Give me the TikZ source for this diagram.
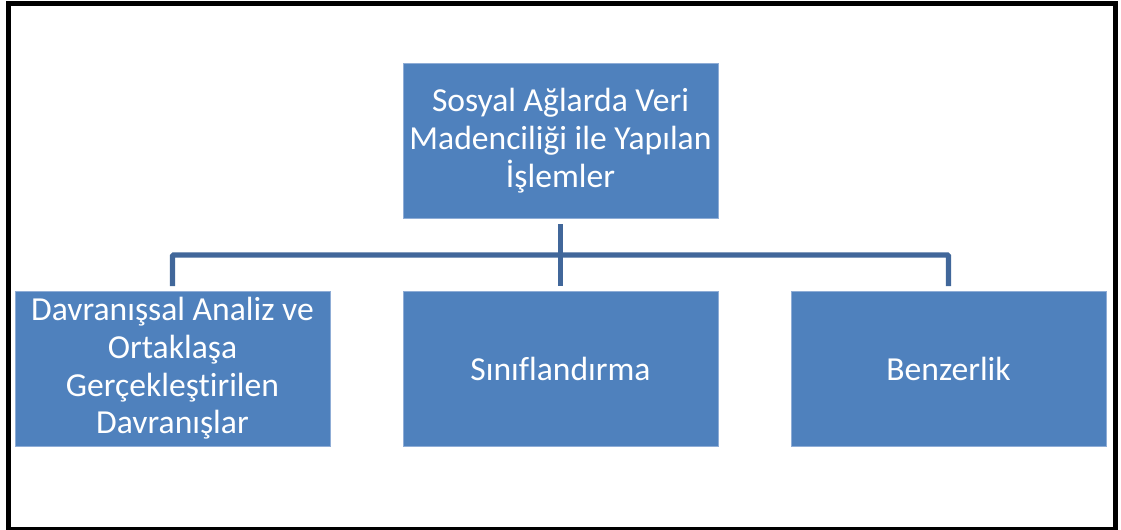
\documentclass[tikz,border=0pt]{standalone}
\usepackage{fontspec}
\setmainfont{Carlito}[Ligatures={NoCommon}]
\definecolor{boxfill}{HTML}{4F81BD}
\definecolor{boxedge}{HTML}{8FADD6}
\definecolor{linkblue}{HTML}{41679A}
\begin{document}
\begin{tikzpicture}[x=0.75pt,y=-0.75pt,
  card/.style={rectangle, fill=boxfill, draw=boxedge, line width=0.4pt,
    minimum width=236.25pt, minimum height=116.25pt, inner sep=0pt, outer sep=0pt,
    text=white, align=center,
    font=\fontsize{25.2pt}{28.3pt}\selectfont},
  link/.style={draw=linkblue, line width=4.1pt}]
  \useasboundingbox (0,0) rectangle (1121,529);
  % outer frame
  \draw[line width=3.75pt] (8.5,3.5) rectangle (1115,529);

  % boxes
  \node[card] (top) at (560.5,140.5) {Sosyal Ağlarda Veri\\Madenciliği ile Yapılan\\İşlemler};
  \node[card] (left) at (172.5,368.5) {Davranışsal Analiz ve\\Ortaklaşa\\Gerçekleştirilen\\Davranışlar};
  \node[card] (mid) at (560.5,368.5) {Sınıflandırma};
  \node[card] (right) at (948.5,368.5) {Benzerlik};

  % connectors
  \coordinate (bus) at (560.5,255);
  \draw[link] ([yshift=-4.5pt]top.south) -- ([yshift=3.75pt]mid.north);
  \draw[link, rounded corners=1pt] ([yshift=3.75pt]left.north) |- (bus) -| ([yshift=3.75pt]right.north);
\end{tikzpicture}
\end{document}
